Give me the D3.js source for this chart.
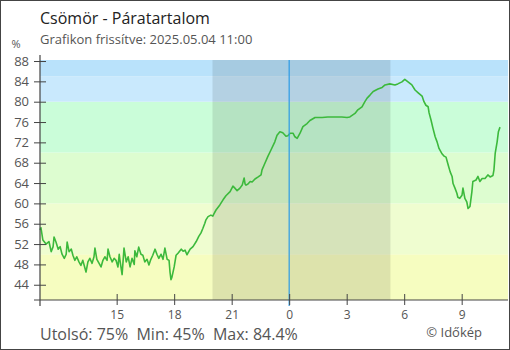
<!DOCTYPE html>
<html>
<head>
<meta charset="utf-8">
<script src="https://cdn.jsdelivr.net/npm/d3@7"></script>
<style>
  html, body { margin: 0; padding: 0; background: #fff; }
  svg { display: block; font-family: "Open Sans", "Noto Sans", sans-serif; }
</style>
</head>
<body>
<svg id="chart" width="510" height="350"></svg>
<script>
// ---- data ----
const title = "Csömör - Páratartalom";
const subtitle = "Grafikon frissítve: 2025.05.04 11:00";
const statsText = "Utolsó: 75%  Min: 45%  Max: 84.4%";
const credit = "© Időkép";
const yTicks = [44, 48, 52, 56, 60, 64, 68, 72, 76, 80, 84, 88];
const xTickHours = [15, 18, 21, 0, 3, 6, 9];
// humidity bands (lower, upper)
const bandLimits = [[41, 50], [50, 60], [60, 70], [70, 80], [80, 85], [85, 88.2]];
const bandColors = ["#f6fdc0", "#effdd0", "#ddfdd0", "#cafdd9", "#c9e9fd", "#b9e2fb"];
// night period: minutes from 2025-05-03 11:00
const nightMinutes = [540, 1097];
const midnightMinute = 780;
// readings: [minutes since 2025-05-03 11:00, relative humidity %]
const humidity = [
  [0,54.8],[3,55.2],[9,52.8],[19,52.0],[28,52.5],[35,50.5],[41,51.5],[44,53.4],[50,52.4],[57,51.0],
  [63,51.5],[69,50.0],[76,49.2],[82,50.0],[85,52.4],[91,50.5],[98,51.0],[103,49.8],[109,48.8],[115,49.5],
  [122,48.5],[128,47.8],[134,48.8],[141,47.2],[144,46.5],[150,48.5],[156,49.2],[163,48.2],[169,49.5],[172,51.2],
  [178,49.0],[185,48.2],[191,47.5],[197,48.8],[203,49.5],[210,48.8],[213,51.0],[219,49.5],[226,48.5],[232,49.2],
  [238,48.8],[244,47.5],[248,50.0],[251,48.5],[257,46.0],[263,51.2],[270,48.5],[276,49.5],[282,47.5],[288,49.2],
  [295,48.0],[297,50.7],[303,49.5],[309,51.4],[316,50.0],[322,49.8],[328,48.5],[335,49.0],[341,47.9],[347,49.0],
  [353,49.8],[360,51.0],[366,50.0],[372,49.2],[379,50.0],[385,49.0],[391,51.2],[398,49.0],[404,48.8],[407,46.5],
  [410,45.0],[413,45.5],[420,47.5],[426,49.8],[432,50.2],[442,51.0],[448,50.6],[454,50.8],[460,49.9],[470,51.0],
  [479,51.5],[489,52.5],[497,53.5],[504,54.2],[510,55.1],[516,56.1],[519,56.7],[526,57.4],[535,57.7],[541,57.5],
  [544,57.9],[551,58.7],[563,59.7],[573,60.7],[582,61.5],[595,62.3],[604,63.4],[610,63.0],[617,62.5],[626,63.0],
  [633,63.6],[639,65.0],[642,63.8],[645,63.6],[651,63.8],[658,64.3],[664,64.2],[673,64.8],[683,65.2],[692,65.6],
  [695,66.6],[704,67.9],[713,69.2],[723,70.5],[735,72.1],[742,73.4],[751,74.1],[760,73.9],[770,73.2],[776,73.3],
  [783,73.8],[792,73.8],[798,73.1],[805,72.8],[814,73.8],[823,75.1],[836,75.7],[845,76.3],[861,76.9],[883,76.9],
  [901,77.0],[923,77.0],[945,77.0],[961,76.9],[970,77.0],[986,77.7],[995,78.4],[1008,79.0],[1017,80.0],[1024,80.7],
  [1033,81.3],[1043,82.0],[1049,82.2],[1058,82.5],[1071,82.8],[1080,83.3],[1095,83.5],[1111,83.3],[1120,83.5],[1133,83.9],
  [1142,84.4],[1152,83.9],[1164,83.3],[1174,82.3],[1183,81.8],[1196,81.1],[1202,80.0],[1208,79.3],[1215,79.0],[1218,77.8],
  [1224,76.4],[1230,74.8],[1237,73.1],[1243,72.1],[1249,70.8],[1259,69.7],[1265,69.3],[1271,69.1],[1278,67.5],[1284,66.2],
  [1290,65.3],[1293,63.9],[1299,63.0],[1305,62.0],[1308,61.2],[1314,61.0],[1321,61.6],[1324,63.0],[1330,61.0],[1336,60.3],
  [1340,59.0],[1346,59.4],[1352,62.3],[1355,64.3],[1365,64.6],[1371,65.3],[1377,64.3],[1384,64.9],[1393,64.9],[1402,65.6],
  [1409,65.2],[1418,65.5],[1421,66.6],[1425,69.9],[1431,72.1],[1435,74.1],[1440,75.0]
];

// ---- drawing ----
const W = 510, H = 350;
const pLeft = 40, pRight = 508, pTop = 60, pBottom = 300;
const start = new Date(2025, 4, 3, 11, 0);
const end = new Date(2025, 4, 4, 11, 25);
const toDate = m => new Date(start.getTime() + m * 60000);

const x = d3.scaleTime().domain([start, end]).range([pLeft, pRight]);
const y = d3.scaleLinear().domain([41, 88.2]).range([pBottom, pTop]);

const svg = d3.select("#chart");
svg.append("rect").attr("x", 0).attr("y", 0).attr("width", W).attr("height", H).attr("fill", "#fff");

// bands
svg.append("g").selectAll("rect").data(bandLimits).join("rect")
  .attr("x", pLeft).attr("width", pRight - pLeft)
  .attr("y", d => y(d[1])).attr("height", d => y(d[0]) - y(d[1]))
  .attr("fill", (d, i) => bandColors[i]);

// night overlay
svg.append("rect")
  .attr("x", x(toDate(nightMinutes[0])))
  .attr("width", x(toDate(nightMinutes[1])) - x(toDate(nightMinutes[0])))
  .attr("y", pTop).attr("height", pBottom - pTop)
  .attr("fill", "#000").attr("fill-opacity", 0.1);

// line
const line = d3.line().x(d => x(toDate(d[0]))).y(d => y(d[1]));
svg.append("path").datum(humidity)
  .attr("d", line).attr("fill", "none")
  .attr("stroke", "#3cb93c").attr("stroke-width", 1.6).attr("stroke-linejoin", "round");

// midnight line
svg.append("line")
  .attr("x1", x(toDate(midnightMinute))).attr("x2", x(toDate(midnightMinute)))
  .attr("y1", pTop).attr("y2", pBottom + 6)
  .attr("stroke", "#2b9be6").attr("stroke-width", 1.2);

// axes
const axisColor = "#444";
const tickColor = "#555";
// y axis
const gy = svg.append("g").attr("transform", `translate(${pLeft},0)`)
  .call(d3.axisLeft(y).tickValues(yTicks).tickSize(6).tickPadding(5));
gy.select(".domain").remove();
gy.selectAll(".tick line").attr("x2", 6).attr("x1", -6).attr("stroke", axisColor);
gy.selectAll(".tick text").attr("fill", tickColor).style("font-size", "13px")
  .style("font-family", '"Open Sans", sans-serif').attr("x", -11);
svg.append("line").attr("x1", pLeft).attr("x2", pLeft).attr("y1", pTop - 5).attr("y2", pBottom + 6)
  .attr("stroke", axisColor).attr("stroke-width", 1.2);

// x axis
const xTickDates = xTickHours.map(h => new Date(2025, 4, h >= 11 ? 3 : 4, h, 0));
const gx = svg.append("g").attr("transform", `translate(0,${pBottom})`)
  .call(d3.axisBottom(x).tickValues(xTickDates).tickFormat(d => String(d.getHours())).tickSize(5).tickPadding(5));
gx.select(".domain").remove();
gx.selectAll(".tick line").attr("y1", -6).attr("y2", 5).attr("stroke", axisColor);
gx.selectAll(".tick text").attr("fill", tickColor).style("font-size", "12px")
  .style("font-family", '"Open Sans", sans-serif');
svg.append("line").attr("x1", pLeft - 6).attr("x2", pRight).attr("y1", pBottom).attr("y2", pBottom)
  .attr("stroke", axisColor).attr("stroke-width", 1.2);

// unit
svg.append("text").attr("x", 16).attr("y", 48).attr("text-anchor", "middle")
  .attr("fill", tickColor).style("font-size", "11px").text("%");

// titles
svg.append("text").attr("x", 40).attr("y", 24).attr("fill", "#222")
  .style("font-size", "16px").text(title);
svg.append("text").attr("x", 40).attr("y", 44).attr("fill", "#555")
  .style("font-size", "13px").text(subtitle);

// stats
svg.append("text").attr("x", 40).attr("y", 340).attr("fill", "#555")
  .style("font-size", "16px").style("white-space", "pre").attr("xml:space", "preserve").text(statsText);
svg.append("text").attr("x", 482).attr("y", 337).attr("text-anchor", "end").attr("fill", "#555")
  .style("font-size", "13px").text(credit);

// frame
svg.append("rect").attr("x", 0.5).attr("y", 0.5).attr("width", W - 1).attr("height", H - 1)
  .attr("fill", "none").attr("stroke", "#444").attr("stroke-width", 1);
</script>
</body>
</html>
